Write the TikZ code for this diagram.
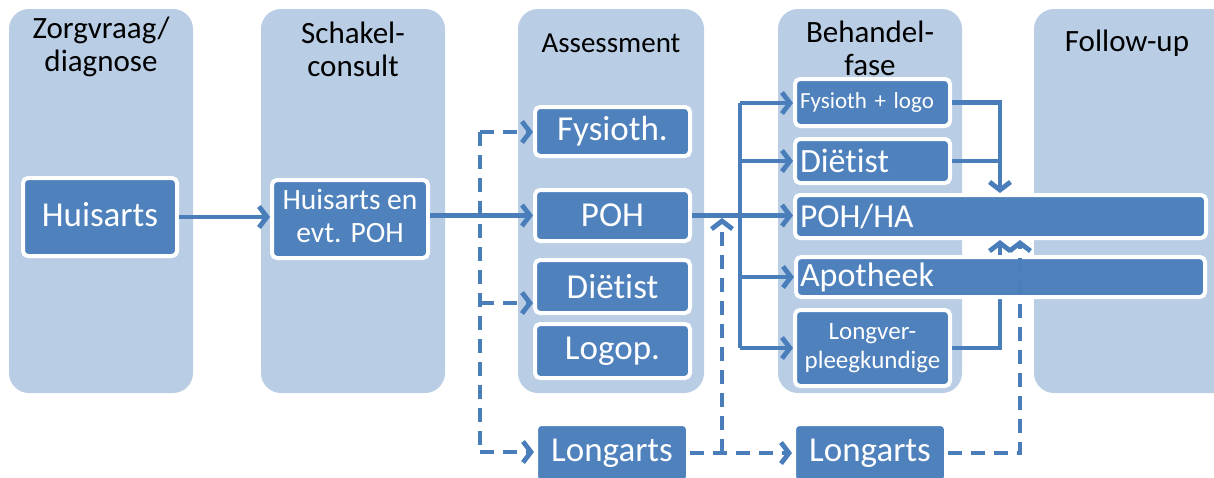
\documentclass[tikz,border=0pt]{standalone}
\usepackage{fontspec}
\setmainfont{Carlito}[Ligatures=NoCommon]
\usetikzlibrary{arrows.meta,calc}
\definecolor{panelblue}{HTML}{B9CDE5}
\definecolor{boxblue}{HTML}{4F81BD}
\definecolor{lineblue}{HTML}{4A7EBB}
\tikzset{
 panel/.style={fill=panelblue, rounded corners=20pt, inner sep=0pt},
 title/.style={align=center, font=\fontsize{31pt}{33pt}\selectfont, text=black, inner sep=0pt},
 box/.style={draw=white, line width=4pt, fill=boxblue, rounded corners=5pt, text=white, inner sep=0pt, align=center},
 lbox/.style={box, inner xsep=5pt, text width=#1, align=left},
 big/.style={font=\fontsize{35pt}{38pt}\selectfont},
 conn/.style={draw=lineblue, line width=4.8pt},
 arr/.style={conn, -{Straight Barb[length=8pt,width=21pt]}},
 dashconn/.style={conn, dash pattern=on 14pt off 9pt},
 dasharr/.style={dashconn, -{Straight Barb[length=8pt,width=21pt]}},
}
\begin{document}
\begin{tikzpicture}[x=1pt, y=-1pt]
\useasboundingbox (0,0) rectangle (1214,477);
% panels
\node[panel, minimum width=184pt, minimum height=384pt] (p1) at (101,201) {};
\node[panel, minimum width=184pt, minimum height=384pt] (p2) at (353,201) {};
\node[panel, minimum width=186pt, minimum height=384pt] (p3) at (611,201) {};
\node[panel, minimum width=184pt, minimum height=384pt] (p4) at (870,201) {};
\node[panel, minimum width=216pt, minimum height=384pt] (p5) at (1142,201) {};
% titles
\node[title] (t1) at (101,47) {Zorgvraag/\\diagnose};
\node[title] (t2) at (353,49) {Schakel-\\consult};
\node[title, font=\fontsize{29pt}{33pt}\selectfont] (t3) at (611,43) {Assessment};
\node[title] (t4) at (870,48) {Behandel-\\fase};
\node[title] (t5) at (1127,43) {Follow-up};
% boxes
\node[box, big, minimum width=154pt, minimum height=78pt] (hA) at (100,217) {\raisebox{6pt}{Huisarts}};
\node[box, minimum width=156pt, minimum height=78pt, font=\fontsize{29.5pt}{33pt}\selectfont] (hB) at (350,219) {\raisebox{3pt}{\begin{tabular}{@{}c@{}}Huisarts en\\evt. POH\end{tabular}}};
\node[box, big, minimum width=155pt, minimum height=49pt] (fys) at (612.5,131.5) {Fysioth.};
\node[box, big, minimum width=155pt, minimum height=51pt] (poh) at (612.5,215.5) {POH};
\node[box, big, minimum width=155pt, minimum height=53pt] (die) at (612.5,286.5) {Diët\kern0pt ist};
\node[box, big, minimum width=155pt, minimum height=54pt] (log) at (612.5,351) {Logop.};
\node[box, big, minimum width=152pt, minimum height=58pt] (la1) at (612,453) {Longarts};
\node[box, big, minimum width=152pt, minimum height=58pt] (la2) at (870,453) {Longarts};
\node[lbox=145pt, minimum width=155pt, minimum height=47pt, font=\fontsize{23pt}{26pt}\selectfont] (fl) at (872.5,102.5) {\raisebox{4pt}{Fysioth + logo}};
\node[lbox=145pt, minimum width=155pt, minimum height=44pt, font=\fontsize{34pt}{36pt}\selectfont] (bd) at (872.5,161) {Diët\kern0pt ist};
\node[lbox=401pt, minimum width=411pt, minimum height=43pt, font=\fontsize{33.5pt}{36pt}\selectfont] (ph) at (1000.5,216.5) {POH/HA};
\node[box, minimum width=155pt, minimum height=76pt, font=\fontsize{25pt}{29pt}\selectfont] (lv) at (872.5,348) {Longver-\\pleegkundige};
% arrow from Longverpleegkundige, partly hidden by Apotheek
\coordinate (w1) at (1000,102.5);
\draw[arr] (lv.east) -| (w1 |- ph.south);
\node[lbox=401pt, inner xsep=4pt, minimum width=409pt, minimum height=40pt, font=\fontsize{34pt}{36pt}\selectfont] (ap) at (1000.5,277) {Apotheek};
% connectors
\draw[arr] (hA.east) -- (hA.east -| hB.west);
\coordinate (j1) at (480,215.5);
\coordinate (a1) at (480,132);
\coordinate (a2) at (480,303);
\coordinate (a3) at (480,452);
\draw[dashconn] (hB.east |- poh) -- (j1);
\draw[arr] (hB.east |- poh) -- (poh);
\draw[dashconn] (a1) -- (a3);
\draw[dasharr] (a1) -- (a1 -| fys.west);
\draw[dasharr] (a2) -- (a2 -| die.west);
\draw[dasharr] (a3) -- (a3 -| la1.west);
% fan-out to behandelfase
\coordinate (u1) at (740,103);
\coordinate (u2) at (740,161);
\coordinate (u4) at (740,277);
\coordinate (u5) at (740,348);
\draw[conn] (u1) -- (u5);
\draw[arr] (poh.east) -- (poh.east -| ph.west);
\draw[arr] (u1) -- (u1 -| fl.west);
\draw[arr] (u2) -- (u2 -| bd.west);
\draw[arr] (u4) -- (u4 -| ap.west);
\draw[arr] (u5) -- (u5 -| lv.west);
% longarts dashed
\coordinate (v1) at (722,453);
\coordinate (v2) at (722,218);
\draw[dasharr] (la1) -- (la2);
\draw[dasharr] (v1) -- (v2);
% to POH/HA
\draw[conn] (bd.east) -- (bd.east -| w1);
\draw[arr] (fl.east) -- (w1) -- (w1 |- ph.north);
\coordinate (x2) at (1020,453);
\draw[dasharr] (la2.east) -- (x2) -- (x2 |- ph.south);
\end{tikzpicture}
\end{document}
